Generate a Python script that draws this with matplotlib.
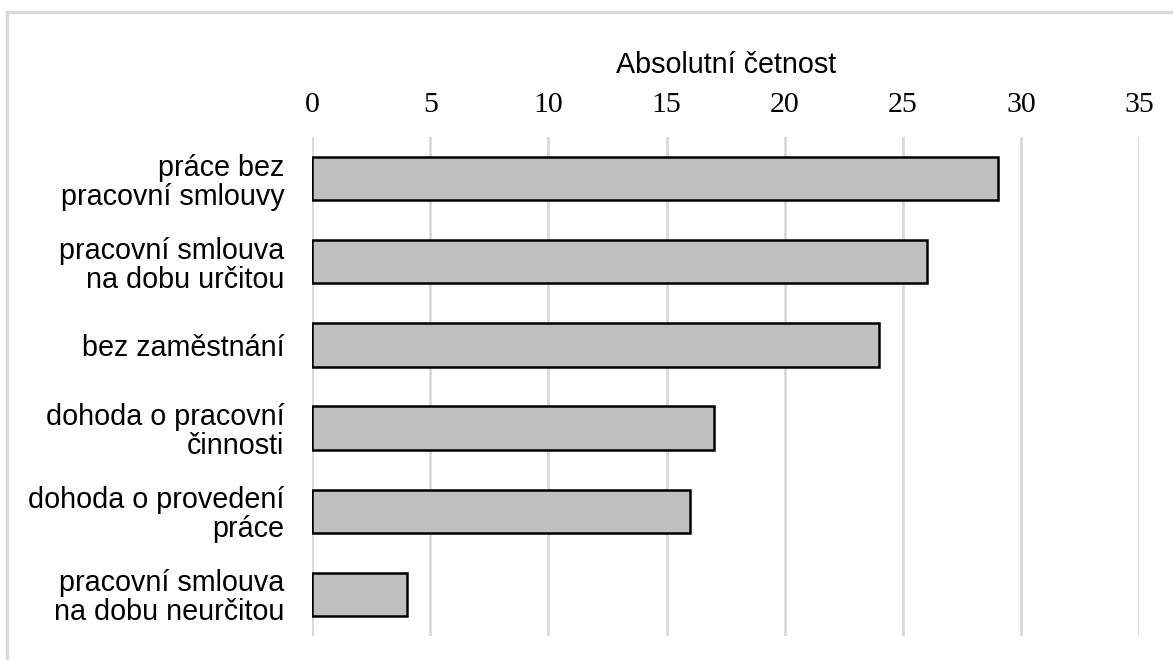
import matplotlib
matplotlib.use("Agg")
import matplotlib.pyplot as plt
from matplotlib.lines import Line2D

# Categories (top to bottom) and absolute counts
categories = [
    "práce bez\npracovní smlouvy",
    "pracovní smlouva\nna dobu určitou",
    "bez zaměstnání",
    "dohoda o pracovní\nčinnosti",
    "dohoda o provedení\npráce",
    "pracovní smlouva\nna dobu neurčitou",
]
counts = [29, 26, 24, 17, 16, 4]
x_ticks = [0, 5, 10, 15, 20, 25, 30, 35]
x_label = "Absolutní četnost"

fig = plt.figure(figsize=(11.73, 6.6), dpi=100)
ax = fig.add_axes([0.266, 0.0364, 0.7053, 0.7561])

positions = list(range(len(categories)))
ax.barh(positions, counts, height=0.52, color="#bfbfbf",
        edgecolor="black", linewidth=1.8, zorder=3)

ax.set_ylim(len(categories) - 0.5, -0.5)
ax.set_xlim(0, 35)
ax.set_xticks(x_ticks)
ax.set_xticklabels([str(t) for t in x_ticks], family="Liberation Serif", fontsize=21.5)
ax.xaxis.tick_top()
ax.xaxis.set_label_position("top")
ax.set_xlabel(x_label, family="Liberation Sans", fontsize=20.7, labelpad=13)

ax.set_yticks(positions)
ax.set_yticklabels(categories, family="Liberation Sans", fontsize=20.7,
                   linespacing=1.05)
ax.tick_params(axis="y", length=0, pad=20)
ax.tick_params(axis="x", length=0, pad=14)

ax.grid(axis="x", color="#d9d9d9", linewidth=2, zorder=0)
for s in ax.spines.values():
    s.set_visible(False)

# Light frame along the top and left edges of the figure
fig.add_artist(Line2D([6.5 / 1173, 1], [1 - 11.5 / 660, 1 - 11.5 / 660],
                      transform=fig.transFigure, color="#d9d9d9", linewidth=2.5))
fig.add_artist(Line2D([6.5 / 1173, 6.5 / 1173], [0, 1 - 11.5 / 660],
                      transform=fig.transFigure, color="#d9d9d9", linewidth=2.5))

fig.savefig("out.png", dpi=100)
